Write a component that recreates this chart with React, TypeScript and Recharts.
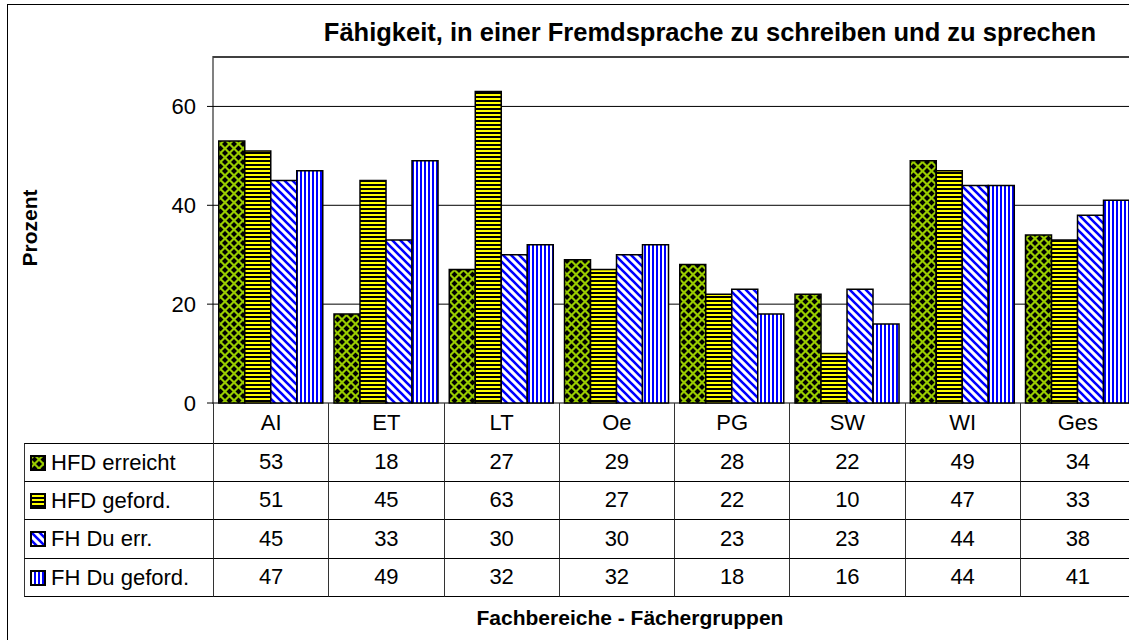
import React from "react";
import { Bar, BarChart, CartesianGrid, XAxis, YAxis } from "recharts";

/* ---------- data ---------- */
const categories = ["AI", "ET", "LT", "Oe", "PG", "SW", "WI", "Ges"];
const hfdErreicht = [53, 18, 27, 29, 28, 22, 49, 34];
const hfdGeford = [51, 45, 63, 27, 22, 10, 47, 33];
const fhDuErr = [45, 33, 30, 30, 23, 23, 44, 38];
const fhDuGeford = [47, 49, 32, 32, 18, 16, 44, 41];
const yTicks = [0, 20, 40, 60];

const series = [
  { key: "hfdErreicht", name: "HFD erreicht", values: hfdErreicht, fill: "url(#patDiamond)" },
  { key: "hfdGeford", name: "HFD geford.", values: hfdGeford, fill: "url(#patHoriz)" },
  { key: "fhDuErr", name: "FH Du err.", values: fhDuErr, fill: "url(#patDiag)" },
  { key: "fhDuGeford", name: "FH Du geford.", values: fhDuGeford, fill: "url(#patVert)" },
];

const data = categories.map((c, i) => {
  const row: Record<string, string | number> = { cat: c };
  series.forEach((s) => (row[s.key] = s.values[i]));
  return row;
});

/* ---------- layout ---------- */
const FONT = '"Liberation Sans", Arial, sans-serif';
const TXT = 22;
const PLOT_LEFT = 213;
const PLOT_TOP = 57;
const PLOT_BOTTOM = 403;
const PLOT_W = 922;
const COL_W = PLOT_W / categories.length;
const ROW_H = 38.5;
const TABLE_LEFT = 24;
const CHART_W = 1140;
const CHART_H = 640;
const Y_AXIS_W = 60;

function Patterns() {
  return (
    <svg width={0} height={0} style={{ position: "absolute" }}>
      <defs>
        <pattern id="patDiamond" patternUnits="userSpaceOnUse" width={9} height={9}>
          <rect width={9} height={9} fill="#99cc00" />
          <polygon points="4.5,1.5 7.5,4.5 4.5,7.5 1.5,4.5" fill="#000" />
          <polygon points="0,-3 3,0 0,3 -3,0" fill="#000" />
          <polygon points="9,-3 12,0 9,3 6,0" fill="#000" />
          <polygon points="0,6 3,9 0,12 -3,9" fill="#000" />
          <polygon points="9,6 12,9 9,12 6,9" fill="#000" />
        </pattern>
        <pattern id="patHoriz" patternUnits="userSpaceOnUse" width={4} height={4}>
          <rect width={4} height={4} fill="#ffff00" />
          <rect width={4} height={2} fill="#000" />
        </pattern>
        <pattern id="patDiag" patternUnits="userSpaceOnUse" width={8} height={8}>
          <rect width={8} height={8} fill="#fff" />
          <path d="M-1,-1 L9,9 M-3,5 L3,11 M5,-3 L11,3" stroke="#0000ff" strokeWidth={2.6} />
        </pattern>
        <pattern id="patVert" patternUnits="userSpaceOnUse" width={4} height={4}>
          <rect width={4} height={4} fill="#fff" />
          <rect width={2} height={4} fill="#0000ff" />
        </pattern>
      </defs>
    </svg>
  );
}

function Swatch({ fill }: { fill: string }) {
  return (
    <svg width={16} height={16} style={{ position: "absolute", left: 5, top: 11 }}>
      <rect x={1} y={1} width={14} height={14} fill={fill} stroke="#000" strokeWidth={2} />
    </svg>
  );
}

function DataTable() {
  const cell = (left: number, top: number, w: number, h: number, content: React.ReactNode, key: string) => (
    <div
      key={key}
      style={{
        position: "absolute",
        left,
        top,
        width: w,
        height: h,
        borderLeft: "1px solid #333",
        borderBottom: "1px solid #000",
        boxSizing: "border-box",
        display: "flex",
        alignItems: "center",
        justifyContent: "center",
        fontFamily: FONT,
        fontSize: TXT,
        color: "#000",
      }}
    >
      {content}
    </div>
  );
  const cells: React.ReactNode[] = [];
  categories.forEach((c, i) => {
    cells.push(cell(PLOT_LEFT + i * COL_W, PLOT_BOTTOM, COL_W, 41, c, "h" + i));
  });
  series.forEach((s, r) => {
    const top = PLOT_BOTTOM + 40 + r * ROW_H;
    cells.push(
      <div
        key={"l" + r}
        style={{
          position: "absolute",
          left: TABLE_LEFT,
          top,
          width: PLOT_LEFT - TABLE_LEFT,
          height: ROW_H,
          borderLeft: "1px solid #333",
          borderTop: r === 0 ? "1px solid #000" : undefined,
          borderBottom: "1px solid #000",
          boxSizing: "border-box",
          fontFamily: FONT,
          fontSize: TXT,
          lineHeight: `${ROW_H}px`,
          paddingLeft: 26,
          whiteSpace: "nowrap",
        }}
      >
        <Swatch fill={s.fill} />
        {s.name}
      </div>
    );
    s.values.forEach((v, i) => {
      cells.push(cell(PLOT_LEFT + i * COL_W, top, COL_W, ROW_H, String(v), `v${r}-${i}`));
    });
  });
  return <>{cells}</>;
}

export default function App() {
  return (
    <div
      style={{
        position: "absolute",
        left: 0,
        top: 0,
        width: 1129,
        height: 640,
        overflow: "hidden",
        background: "#fff",
      }}
    >
      <Patterns />
      {/* outer frame */}
      <div
        style={{
          position: "absolute",
          left: 7,
          top: 4,
          width: 1140,
          height: 660,
          border: "1.5px solid #000",
        }}
      />
      {/* plot area frame */}
      <div
        style={{
          position: "absolute",
          left: PLOT_LEFT - 1,
          top: PLOT_TOP - 1,
          width: PLOT_W + 10,
          height: PLOT_BOTTOM - PLOT_TOP,
          borderTop: "2px solid #808080",
          borderLeft: "2px solid #808080",
        }}
      />
      <div style={{ position: "absolute", left: 0, top: 0, width: CHART_W, height: CHART_H }}>
        <BarChart
          width={CHART_W}
          height={CHART_H}
          data={data}
          margin={{ top: PLOT_TOP, right: CHART_W - PLOT_LEFT - PLOT_W, bottom: CHART_H - PLOT_BOTTOM, left: PLOT_LEFT - Y_AXIS_W }}
          barCategoryGap="5%"
          barGap={0}
        >
          <CartesianGrid vertical={false} stroke="#000" strokeWidth={1} />
          <XAxis dataKey="cat" hide />
          <YAxis
            width={Y_AXIS_W}
            domain={[0, 70]}
            ticks={yTicks}
            axisLine={false}
            tickLine={{ stroke: "#000" }}
            tickSize={6}
            tickMargin={11}
            tick={{ fill: "#000", fontSize: TXT, fontFamily: FONT }}
          />
          {series.map((s) => (
            <Bar
              key={s.key}
              dataKey={s.key}
              name={s.name}
              fill={s.fill}
              stroke="#000"
              strokeWidth={1.5}
              isAnimationActive={false}
            />
          ))}
        </BarChart>
      </div>
      <DataTable />
      {/* titles */}
      <div
        style={{
          position: "absolute",
          left: 260,
          width: 900,
          top: 18,
          textAlign: "center",
          fontFamily: FONT,
          fontWeight: "bold",
          fontSize: 25.5,
        }}
      >
        Fähigkeit, in einer Fremdsprache zu schreiben und zu sprechen
      </div>
      <div
        style={{
          position: "absolute",
          left: 30,
          top: 228,
          transform: "translate(-50%, -50%) rotate(-90deg)",
          fontFamily: FONT,
          fontWeight: "bold",
          fontSize: 21,
          whiteSpace: "nowrap",
        }}
      >
        Prozent
      </div>
      <div
        style={{
          position: "absolute",
          left: 370,
          width: 520,
          top: 606,
          textAlign: "center",
          fontFamily: FONT,
          fontWeight: "bold",
          fontSize: 21,
        }}
      >
        Fachbereiche - Fächergruppen
      </div>
    </div>
  );
}
